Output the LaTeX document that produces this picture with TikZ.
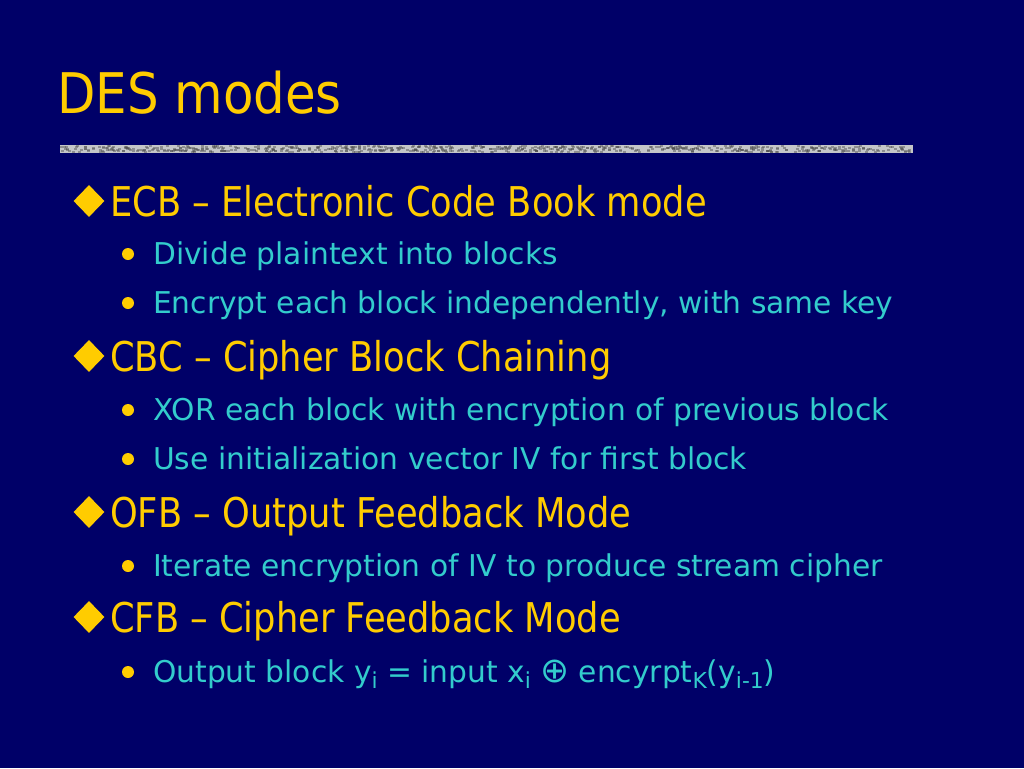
\documentclass[tikz,border=0pt]{standalone}
\usepackage{fontspec}
\setmainfont{DejaVu Sans}[FakeStretch=0.88]
\newfontfamily\titlefont{DejaVu Sans}[FakeStretch=0.89]
\newfontfamily\mainfont{DejaVu Sans}[FakeStretch=0.86]
\newfontfamily\subfont{DejaVu Sans}[FakeStretch=0.99]
\usepackage{xcolor}
\usetikzlibrary{
    shapes.geometric
}
\definecolor{slidebg}{HTML}{000068}
\definecolor{slideyellow}{HTML}{FFCC00}
\definecolor{slidecyan}{HTML}{33CCCC}
\definecolor{barsilver}{HTML}{C4C6C8}
\newcommand{\lowsub}[1]{\raisebox{-6pt}{\fontsize{22}{22}\selectfont #1}}
\newcommand{\bigxor}{\raisebox{-0.5pt}{\fontsize{35}{35}\selectfont ⊕}}

\begin{document}
\begin{tikzpicture}[x=1pt,y=-1pt]
    \tikzstyle{slidetitle}=[anchor=base west, inner sep=0pt, text=slideyellow, font=\titlefont\fontsize{56}{60}\selectfont]
    \tikzstyle{mainitem}=[anchor=base west, inner sep=0pt, text=slideyellow, font=\mainfont\fontsize{41}{44}\selectfont]
    \tikzstyle{subitem}=[anchor=base west, inner sep=0pt, text=slidecyan, font=\subfont\fontsize{30}{32}\selectfont]
    \tikzstyle{diamondmark}=[diamond, fill=slideyellow, inner sep=0pt, minimum width=31pt, minimum height=32pt]
    \tikzstyle{dotmark}=[circle, fill=slideyellow, inner sep=0pt, minimum size=12pt]

    \fill[slidebg] (0,0) rectangle (1024,768);
    \useasboundingbox (0,0) rectangle (1024,768);

    % title and rule
    \node[slidetitle] (T) at (57,113) {DES modes};
    \fill[barsilver] (60,145) rectangle (913,153);
    \pgfmathsetseed{7}
    \foreach \i in {1,...,700} {
        \pgfmathsetmacro{\bx}{60+850*rnd}
        \pgfmathsetmacro{\by}{145+6*rnd}
        \fill[gray!60!black, opacity=0.45] (\bx,\by) rectangle ++(3,2);
    }

    % ECB
    \node[diamondmark] (D1) at (89,201) {};
    \node[mainitem] (ECB) at (110,216) {ECB – Electronic Code Book mode};
    \node[dotmark] (B1) at (128,254) {};
    \node[subitem] (ECBa) at (153,264) {Divide plaintext into blocks};
    \node[dotmark] (B2) at (128,303) {};
    \node[subitem] (ECBb) at (153,313) {Encrypt each block independently, with same key};

    % CBC
    \node[diamondmark] (D2) at (89,356) {};
    \node[mainitem] (CBC) at (110,371) {CBC – Cipher Block Chaining};
    \node[dotmark] (B3) at (128,410) {};
    \node[subitem] (CBCa) at (153,420) {XOR each block with encryption of previous block};
    \node[dotmark] (B4) at (128,459) {};
    \node[subitem] (CBCb) at (153,469) {Use initialization vector IV for first block};

    % OFB
    \node[diamondmark] (D3) at (89,512) {};
    \node[mainitem] (OFB) at (110,527) {OFB – Output Feedback Mode};
    \node[dotmark] (B5) at (128,566) {};
    \node[subitem] (OFBa) at (153,576) {Iterate encryption of IV to produce stream cipher};

    % CFB
    \node[diamondmark] (D4) at (89,617) {};
    \node[mainitem] (CFB) at (110,632) {CFB – Cipher Feedback Mode};
    \node[dotmark] (B6) at (128,672) {};
    \node[subitem] (CFBa) at (153,682) {Output block y\lowsub{i} = input x\lowsub{i} \bigxor{} encyrpt\lowsub{K}(y\lowsub{i-1})};
\end{tikzpicture}
\end{document}
